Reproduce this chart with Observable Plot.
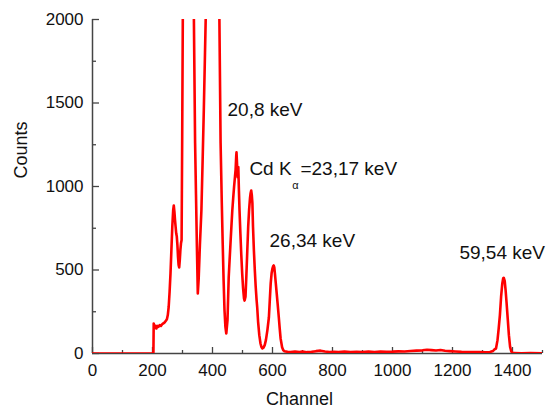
<!DOCTYPE html>
<html><head><meta charset="utf-8">
<script src="https://cdn.jsdelivr.net/npm/d3@7"></script>
<script src="https://cdn.jsdelivr.net/npm/@observablehq/plot@0.6"></script>
<style>body{margin:0;background:#fff}</style>
</head><body><div id="chart"></div>
<script>
const channels = [0,100,203,204,207,210,213,216,220,224,228,232,236,240,244,248,251,254,257,260,263,266,269,271,273,275,277,279,281,283,285,287,289,291,293,295,297,299,301,305,312,320,328,334,338,342,345,348,351,354,358,363,367,371,375,379,386,394,402,410,417,423,427,431,434,437,440,443,446,450,454,457,460,463,466,469,472,475,477,479,480,482,484,486,488,490,493,496,499,502,505,507,510,513,516,519,522,525,527,529,531,533,535,538,541,544,547,549,552,556,560,563,566,570,574,578,583,588,591,594,597,600,602,604,606,608,611,614,617,621,624,627,632,636,640,650,660,675,690,700,715,730,745,760,775,790,805,820,840,860,880,900,920,940,960,980,1000,1020,1040,1060,1080,1100,1115,1130,1145,1160,1175,1190,1210,1230,1250,1270,1290,1310,1325,1335,1340,1345,1350,1354,1358,1362,1366,1369,1371,1374,1377,1380,1384,1388,1392,1396,1400,1405,1430,1460,1500];
const counts = [0,0,0,180,155,165,150,165,160,170,165,175,180,185,195,205,230,280,370,480,620,760,860,886,850,800,760,720,700,650,580,530,515,560,620,660,680,1300,2000,3200,4200,4600,4000,2800,2000,1260,950,640,360,450,650,856,1150,1455,1800,2150,3200,4200,4600,4200,3200,2000,1260,900,660,440,260,160,120,200,455,560,660,760,856,930,1000,1060,1100,1180,1205,1130,1056,1116,980,860,718,590,478,390,330,317,340,470,617,760,860,930,960,976,950,900,760,617,500,400,320,277,190,110,60,40,30,35,50,80,140,217,320,420,480,510,522,527,515,480,420,360,300,217,150,90,38,20,14,10,8,11,9,12,8,10,14,17,12,9,10,8,11,9,10,8,11,9,12,10,11,13,12,15,17,19,22,20,18,21,16,14,12,10,9,8,9,7,9,15,25,30,80,150,230,340,420,450,453,435,380,310,210,110,40,12,5,2,1,2,1];

const xMajorTicks = [0,200,400,600,800,1000,1200,1400];
const xMinorTicks = [100,300,500,700,900,1100,1300,1500];
const yMajorTicks = [0,500,1000,1500,2000];
const yMinorTicks = [250,750,1250,1750];

const peakLabels = ["20,8 keV","26,34 keV","59,54 keV"];
const peakLabelChannels = [450,590,1223];
const peakLabelCounts = [1425,637,563];

const cdLabels = ["Cd K","=23,17 keV"];
const cdLabelChannels = [523,693];
const cdLabelCounts = [1066,1066];
const alphaLabel = ["α"];
const alphaChannel = [666];
const alphaCount = [988];

const xLabel = "Channel";
const yLabel = "Counts";

const spectrum = channels.map((c,i)=>({channel:c, count:counts[i]}));
const font = "'Liberation Sans', Arial, sans-serif";
const axisColor = "#444";

const chart = Plot.plot({
  width:547, height:407,
  marginTop:19, marginBottom:54, marginLeft:92, marginRight:5,
  x:{domain:[0,1500], label:null},
  y:{domain:[0,2000], label:null},
  style:{fontFamily:font, background:"white", color:"#111"},
  marks:[
    Plot.ruleY([0],{stroke:axisColor, strokeWidth:1.5}),
    Plot.ruleX([0],{stroke:axisColor, strokeWidth:1.5}),
    Plot.axisX({ticks:xMajorTicks, tickSize:6, dy:-6, text:null, stroke:axisColor, strokeWidth:1.3, label:null}),
    Plot.axisX({ticks:xMinorTicks, tickSize:3, dy:-3, text:null, stroke:axisColor, strokeWidth:1.3, label:null}),
    Plot.axisX({ticks:xMajorTicks, tickSize:0, tickPadding:10, tickFormat:d=>String(d), fontSize:17, fill:"#111", label:null}),
    Plot.axisY({ticks:yMajorTicks, tickSize:7, dx:7, text:null, stroke:axisColor, strokeWidth:1.3, label:null}),
    Plot.axisY({ticks:yMinorTicks, tickSize:4, dx:4, text:null, stroke:axisColor, strokeWidth:1.3, label:null}),
    Plot.axisY({ticks:yMajorTicks, tickSize:0, tickPadding:9, tickFormat:d=>String(d), fontSize:17, fill:"#111", label:null}),
    Plot.line(spectrum,{x:"channel", y:"count", stroke:"#ff0000", strokeWidth:2.6, clip:true, curve:"linear"}),
    Plot.text(peakLabels.map((t,i)=>i),{x:i=>peakLabelChannels[i], y:i=>peakLabelCounts[i], text:i=>peakLabels[i], textAnchor:"start", lineAnchor:"bottom", fontSize:19, fill:"#111"}),
    Plot.text(cdLabels.map((t,i)=>i),{x:i=>cdLabelChannels[i], y:i=>cdLabelCounts[i], text:i=>cdLabels[i], textAnchor:"start", lineAnchor:"bottom", fontSize:19, fill:"#111"}),
    Plot.text(alphaLabel.map((t,i)=>i),{x:i=>alphaChannel[i], y:i=>alphaCount[i], text:i=>alphaLabel[i], textAnchor:"start", lineAnchor:"bottom", fontSize:11, fill:"#111"}),
    Plot.text([yLabel],{frameAnchor:"left", rotate:-90, dx:-71, dy:-8, fontSize:18, fill:"#111"}),
    Plot.text([xLabel],{frameAnchor:"bottom", dx:-18, dy:51, lineAnchor:"bottom", fontSize:18, fill:"#111"})
  ]
});
document.getElementById("chart").appendChild(chart);
</script>
</body></html>
